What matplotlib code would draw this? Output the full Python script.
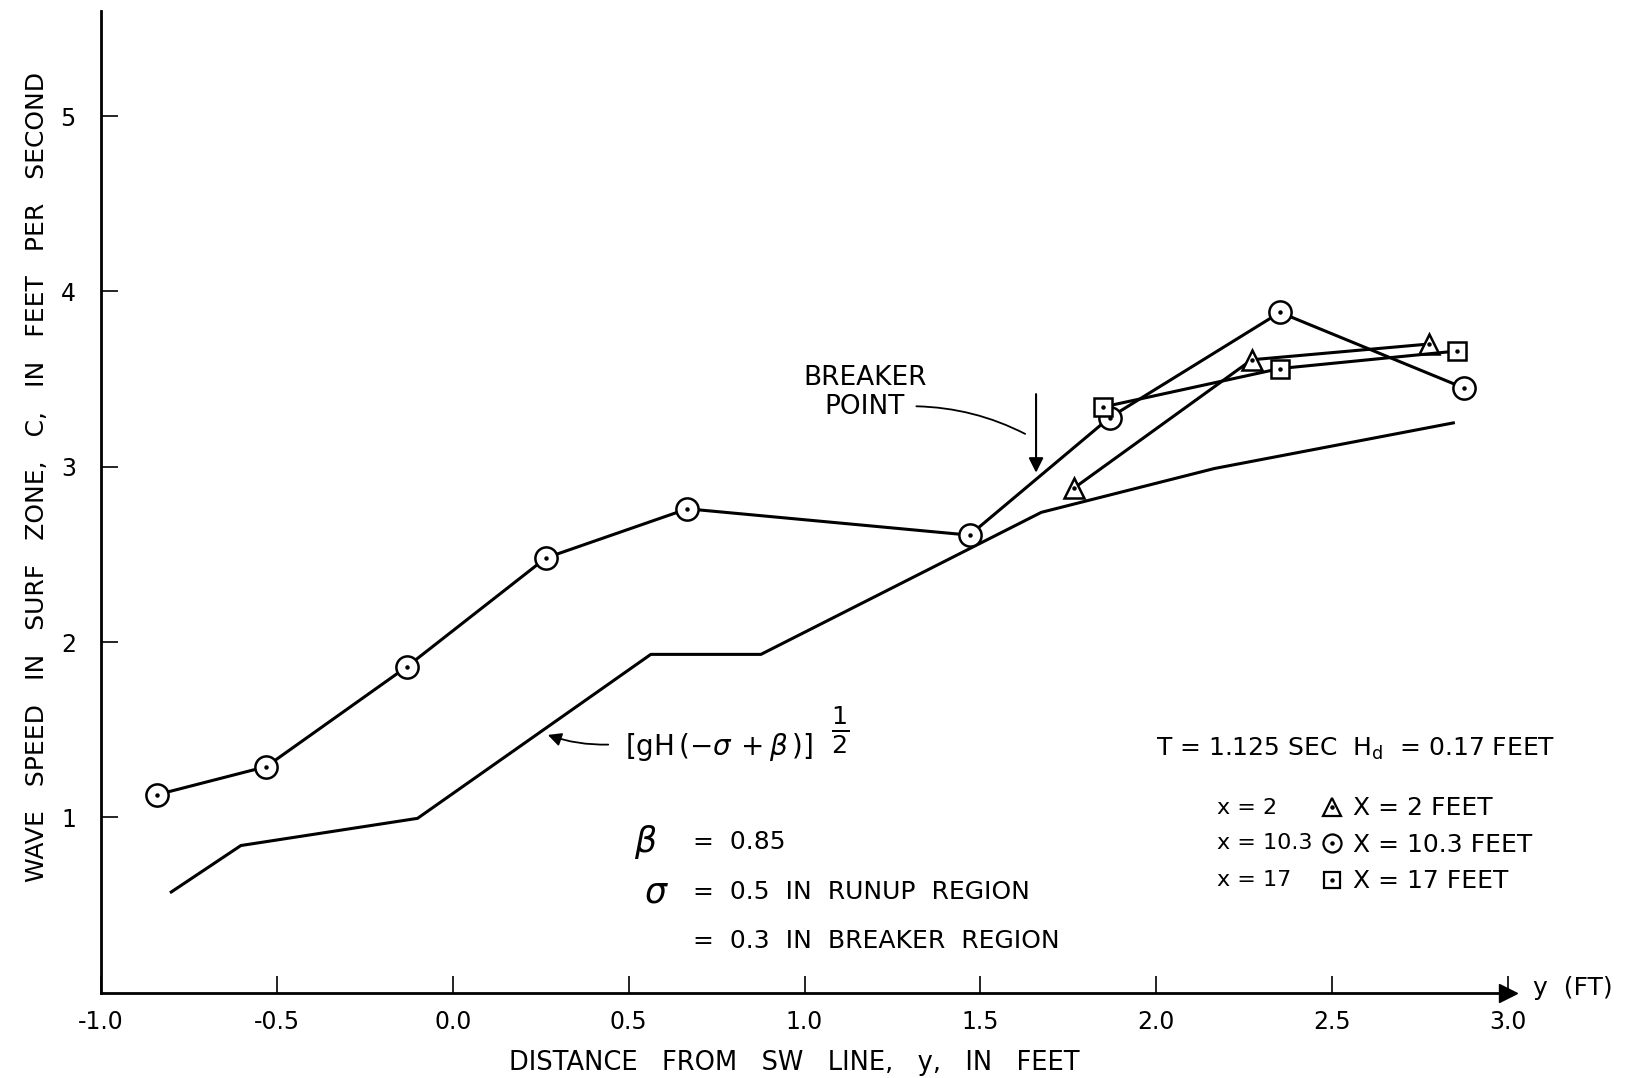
import numpy as np
import matplotlib.pyplot as plt
from matplotlib.lines import Line2D
from matplotlib.legend_handler import HandlerTuple

plt.rcParams['font.family'] = ['DejaVu Sans']
plt.rcParams['mathtext.fontset'] = 'dejavusans'

# measured wave speed, x = 10.3 ft (circles)
y_c = [-0.84, -0.53, -0.13, 0.265, 0.667, 1.469, 1.867, 2.351, 2.873]
c_c = [1.13, 1.29, 1.86, 2.48, 2.76, 2.61, 3.28, 3.88, 3.45]
# x = 2 ft (triangles)
y_t = [1.767, 2.271, 2.776]
c_t = [2.88, 3.61, 3.70]
# x = 17 ft (squares)
y_s = [1.847, 2.351, 2.855]
c_s = [3.34, 3.56, 3.66]
# theory [gH(-sigma+beta)]^1/2
y_th = [-0.80, -0.602, -0.10, 0.563, 0.876, 1.673, 2.165, 2.844]
c_th = [0.575, 0.84, 0.995, 1.93, 1.93, 2.74, 2.99, 3.25]

xticks = [-1.0, -0.5, 0.0, 0.5, 1.0, 1.5, 2.0, 2.5, 3.0]
xticklabels = ['-1.0', '-0.5', '0.0', '0.5', '1.0', '1.5', '2.0', '2.5', '3.0']
yticks = [1, 2, 3, 4, 5]

fs = 17
lw = 2.2

fig = plt.figure(figsize=(16.27, 10.78), dpi=100)
ax = fig.add_axes([0.062, 0.079, 0.865, 0.911])

ax.plot(y_th, c_th, '-', color='k', lw=lw)

mk = dict(color='k', lw=lw, mfc='white', mec='k', mew=1.8)
ax.plot(y_c, c_c, '-', marker='o', ms=16, **mk)
ax.plot(y_t, c_t, '-', marker='^', ms=14, **mk)
ax.plot(y_s, c_s, '-', marker='s', ms=13, **mk)
for yy, cc in [(y_c, c_c), (y_t, c_t), (y_s, c_s)]:
    ax.plot(yy, cc, ls='none', marker='o', ms=2.2, color='k')

ax.set_xlim(-1.0, 3.0)
ax.set_ylim(0, 5.6)
ax.set_xticks(xticks)
ax.set_xticklabels(xticklabels)
ax.set_yticks(yticks)
ax.tick_params(direction='in', length=12, width=1.2, labelsize=fs)
ax.tick_params(axis='x', pad=12)
ax.tick_params(axis='y', pad=18)
for s in ['top', 'right']:
    ax.spines[s].set_visible(False)
for s in ['left', 'bottom']:
    ax.spines[s].set_linewidth(2)
ax.plot(1, 0, '>k', ms=13, transform=ax.get_yaxis_transform(), clip_on=False)

ax.set_xlabel('DISTANCE   FROM   SW   LINE,   y,   IN   FEET', fontsize=18.5)
ax.xaxis.set_label_coords(0.493, -0.058)
ax.set_ylabel('WAVE   SPEED   IN   SURF   ZONE,   C,   IN   FEET   PER   SECOND', fontsize=18)
ax.yaxis.set_label_coords(-0.037, 0.525)
ax.text(3.07, 0.03, 'y  (FT)', fontsize=18, ha='left', va='center')

# breaker point
ax.annotate('', xy=(1.658, 2.95), xytext=(1.658, 3.43),
            arrowprops=dict(arrowstyle='-|>', color='k', lw=1.5, mutation_scale=22))
ax.text(1.171, 3.425, 'BREAKER\nPOINT', fontsize=19, ha='center', va='center',
        multialignment='center', linespacing=1.15)
ax.annotate('', xy=(1.634, 3.18), xytext=(1.31, 3.345),
            arrowprops=dict(arrowstyle='-', color='k', lw=1.3,
                            connectionstyle='arc3,rad=-0.12'))

# formula
ax.text(0.49, 1.40, r'$\left[\mathrm{gH}\,(-\sigma\,+\beta\,)\right]$',
        fontsize=20, ha='left', va='center')
ax.text(1.075, 1.50, r'$\frac{1}{2}$', fontsize=26, ha='left', va='center')
ax.annotate('', xy=(0.263, 1.476), xytext=(0.45, 1.416),
            arrowprops=dict(arrowstyle='-|>', color='k', lw=1.3, mutation_scale=20,
                            connectionstyle='arc3,rad=-0.1'))

ax.text(0.515, 0.86, r'$\beta$', fontsize=25, ha='left', va='center')
ax.text(0.684, 0.86, '=  0.85', fontsize=18, ha='left', va='center')
ax.text(0.545, 0.575, r'$\sigma$', fontsize=25, ha='left', va='center')
ax.text(0.684, 0.575, '=  0.5  IN  RUNUP  REGION', fontsize=18, ha='left', va='center')
ax.text(0.684, 0.295, '=  0.3  IN  BREAKER  REGION', fontsize=18, ha='left', va='center')

# conditions / legend
ax.text(2.0, 1.39, r'T = 1.125 SEC  H$_\mathrm{d}$  = 0.17 FEET', fontsize=18, ha='left', va='center')
for lab, yy in [('x = 2', 1.055), ('x = 10.3', 0.853), ('x = 17', 0.646)]:
    ax.text(2.171, yy, lab, fontsize=16, ha='left', va='center')

hm = dict(ls='none', mfc='white', mec='k', mew=1.6)
dot = Line2D([], [], ls='none', marker='o', ms=2.2, color='k')
h_t = (Line2D([], [], marker='^', ms=13, **hm), dot)
h_c = (Line2D([], [], marker='o', ms=13, **hm), dot)
h_s = (Line2D([], [], marker='s', ms=12, **hm), dot)
ax.legend([h_t, h_c, h_s], ['X = 2 FEET', 'X = 10.3 FEET', 'X = 17 FEET'],
          handler_map={tuple: HandlerTuple(ndivide=1, pad=0)},
          loc='upper left', bbox_to_anchor=(0.866, 0.200), frameon=False,
          fontsize=18, handlelength=1.0, handletextpad=0.35, labelspacing=0.5,
          borderpad=0, borderaxespad=0)

fig.savefig('out.png', dpi=100)
